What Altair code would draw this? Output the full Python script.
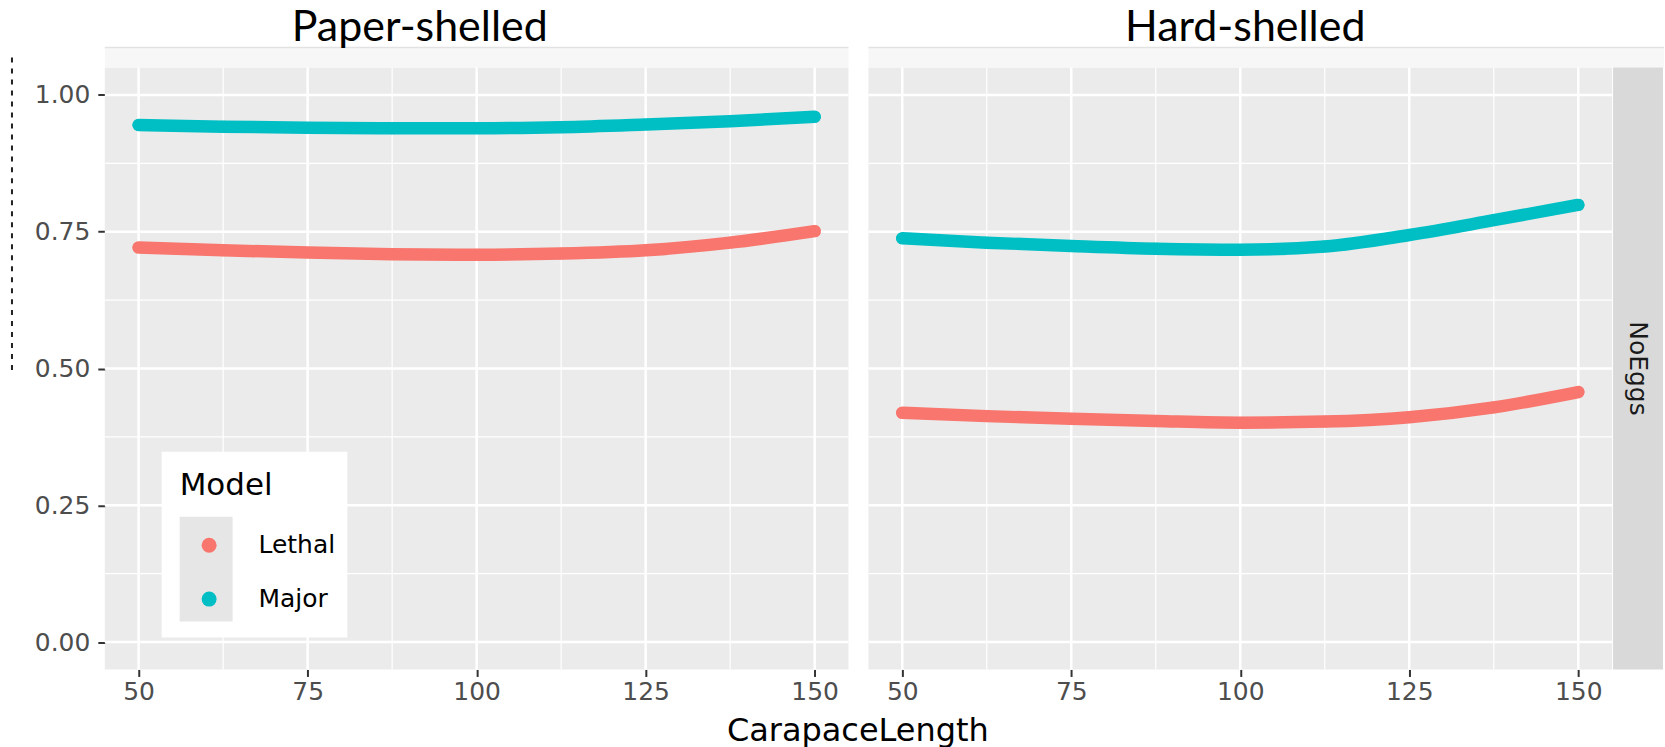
import altair as alt
import pandas as pd

# Predicted probability curves by carapace length, per shell condition and model
lengths = [50, 62.5, 75, 87.5, 100, 112.5, 125, 137.5, 150]
paper_lethal = [0.721, 0.716, 0.712, 0.709, 0.708, 0.710, 0.716, 0.730, 0.751]
paper_major = [0.945, 0.942, 0.940, 0.939, 0.939, 0.941, 0.946, 0.952, 0.960]
hard_lethal = [0.419, 0.413, 0.408, 0.404, 0.401, 0.403, 0.411, 0.429, 0.457]
hard_major = [0.738, 0.730, 0.724, 0.719, 0.717, 0.723, 0.744, 0.771, 0.799]

models = ["Lethal", "Major"]
model_colors = ["#F8766D", "#00BFC4"]
shells = ["Paper-shelled", "Hard-shelled"]
strip_label = "NoEggs"

x_breaks = [50, 75, 100, 125, 150]
x_minor = [62.5, 87.5, 112.5, 137.5]
y_breaks = [0.0, 0.25, 0.5, 0.75, 1.0]
y_minor = [0.125, 0.375, 0.625, 0.875]

series = {
    "Paper-shelled": {"Lethal": paper_lethal, "Major": paper_major},
    "Hard-shelled": {"Lethal": hard_lethal, "Major": hard_major},
}
rows = []
for shell in shells:
    for model in models:
        for length, value in zip(lengths, series[shell][model]):
            rows.append({"Shell": shell, "Model": model,
                         "CarapaceLength": length, "Probability": value})
df = pd.DataFrame(rows)

W, H = 745, 603
AXIS_FONT = "DejaVu Sans"
one = pd.DataFrame({"k": [0]})

x_scale = alt.Scale(domain=[45, 155], nice=False, zero=False)
y_scale = alt.Scale(domain=[-0.05, 1.05], nice=False, zero=False)
color_scale = alt.Scale(domain=models, range=model_colors)

x_axis = alt.Axis(values=x_breaks, title=None, grid=False, domain=False,
                  tickColor="#333333", tickWidth=2, tickSize=7,
                  labelFontSize=25, labelColor="#4d4d4d", labelPadding=3,
                  labelFont=AXIS_FONT, format="d")
y_axis = alt.Axis(values=y_breaks, title=None, grid=False, domain=False,
                  tickColor="#333333", tickWidth=2, tickSize=7,
                  labelFontSize=25, labelColor="#4d4d4d", labelPadding=8,
                  labelFont=AXIS_FONT, format=".2f")

legend = alt.Legend(
    orient="none", legendX=75, legendY=404, padding=0,
    title="Model", titleFont=AXIS_FONT, titleFontSize=31,
    titleFontWeight="normal", titleColor="black", titlePadding=31,
    labelFont=AXIS_FONT, labelFontSize=25, labelColor="black",
    labelOffset=37, labelLimit=300, symbolOffset=17,
    symbolType="circle", symbolSize=225, symbolStrokeWidth=0,
    rowPadding=28,
)


def panel(shell, left):
    xa = x_axis
    ya = y_axis if left else None
    sub = df[df["Shell"] == shell]
    band_right = W if left else W + 52

    band = alt.Chart(one).mark_rect(fill="#f7f7f7").encode(
        x=alt.value(0), x2=alt.value(band_right),
        y=alt.value(-20), y2=alt.value(0))
    band_edge = alt.Chart(one).mark_rule(color="#e2e2e2", strokeWidth=1.5).encode(
        x=alt.value(0), x2=alt.value(band_right), y=alt.value(-20))

    vmaj = alt.Chart(pd.DataFrame({"v": x_breaks})).mark_rule(
        color="white", strokeWidth=2.5).encode(
        x=alt.X("v:Q", scale=x_scale, axis=xa))
    vmin = alt.Chart(pd.DataFrame({"v": x_minor})).mark_rule(
        color="white", strokeWidth=1.2).encode(
        x=alt.X("v:Q", scale=x_scale, axis=xa))
    hmaj = alt.Chart(pd.DataFrame({"h": y_breaks})).mark_rule(
        color="white", strokeWidth=2.5).encode(
        y=alt.Y("h:Q", scale=y_scale, axis=ya))
    hmin = alt.Chart(pd.DataFrame({"h": y_minor})).mark_rule(
        color="white", strokeWidth=1.2).encode(
        y=alt.Y("h:Q", scale=y_scale, axis=ya))

    enc = dict(
        x=alt.X("CarapaceLength:Q", scale=x_scale, axis=xa),
        y=alt.Y("Probability:Q", scale=y_scale, axis=ya),
    )
    caps = alt.Chart(sub).mark_point(filled=True, opacity=1, size=150).encode(
        color=alt.Color("Model:N", scale=color_scale, legend=legend), **enc)
    curves = alt.Chart(sub).mark_line(
        strokeWidth=12.5, strokeCap="round", strokeJoin="round",
        interpolate="monotone").encode(
        color=alt.Color("Model:N", scale=color_scale, legend=legend),
        detail="Model:N", **enc)

    layers = [band, band_edge, vmin, hmin, vmaj, hmaj]
    if left:
        legend_box = alt.Chart(one).mark_rect(fill="white").encode(
            x=alt.value(57), x2=alt.value(243), y=alt.value(385), y2=alt.value(571))
        key_box = alt.Chart(one).mark_rect(fill="#e6e6e6").encode(
            x=alt.value(75), x2=alt.value(128), y=alt.value(450), y2=alt.value(555))
        remnant = alt.Chart(one).mark_rule(
            color="#222222", strokeWidth=2, strokeDash=[5, 6]).encode(
            x=alt.value(-93), y=alt.value(-10), y2=alt.value(305))
        layers = layers + [legend_box, key_box, remnant]
    else:
        strip = alt.Chart(one).mark_rect(fill="#d9d9d9").encode(
            x=alt.value(W + 1), x2=alt.value(W + 51), y=alt.value(0), y2=alt.value(H))
        strip_text = alt.Chart(one).mark_text(
            text=strip_label, angle=90, font=AXIS_FONT, fontSize=25,
            color="#1a1a1a", align="center", baseline="middle").encode(
            x=alt.value(W + 26), y=alt.value(H / 2))
        layers = layers + [strip, strip_text]

    # point layer first so the legend uses filled circles; curves drawn last
    order = [caps] + layers + [curves]
    dx = -57 if left else 5
    return alt.layer(*order).properties(
        width=W, height=H,
        title=alt.TitleParams(shell, font="Lato", fontSize=43,
                              fontWeight="normal", color="black",
                              anchor="middle", dx=dx, dy=6, offset=3),
    )


chart = alt.hconcat(panel(shells[0], True), panel(shells[1], False)).properties(
    title=alt.TitleParams("CarapaceLength", orient="bottom", anchor="middle",
                          font=AXIS_FONT, fontSize=32, fontWeight="normal",
                          color="black", offset=12, dx=20),
    padding={"left": 11, "top": 6, "right": 0, "bottom": 0},
    background="white",
).configure_view(fill="#ebebeb", stroke=None).configure_concat(spacing=16)

chart.save("out.html", embed_options={"renderer": "svg", "actions": False})
